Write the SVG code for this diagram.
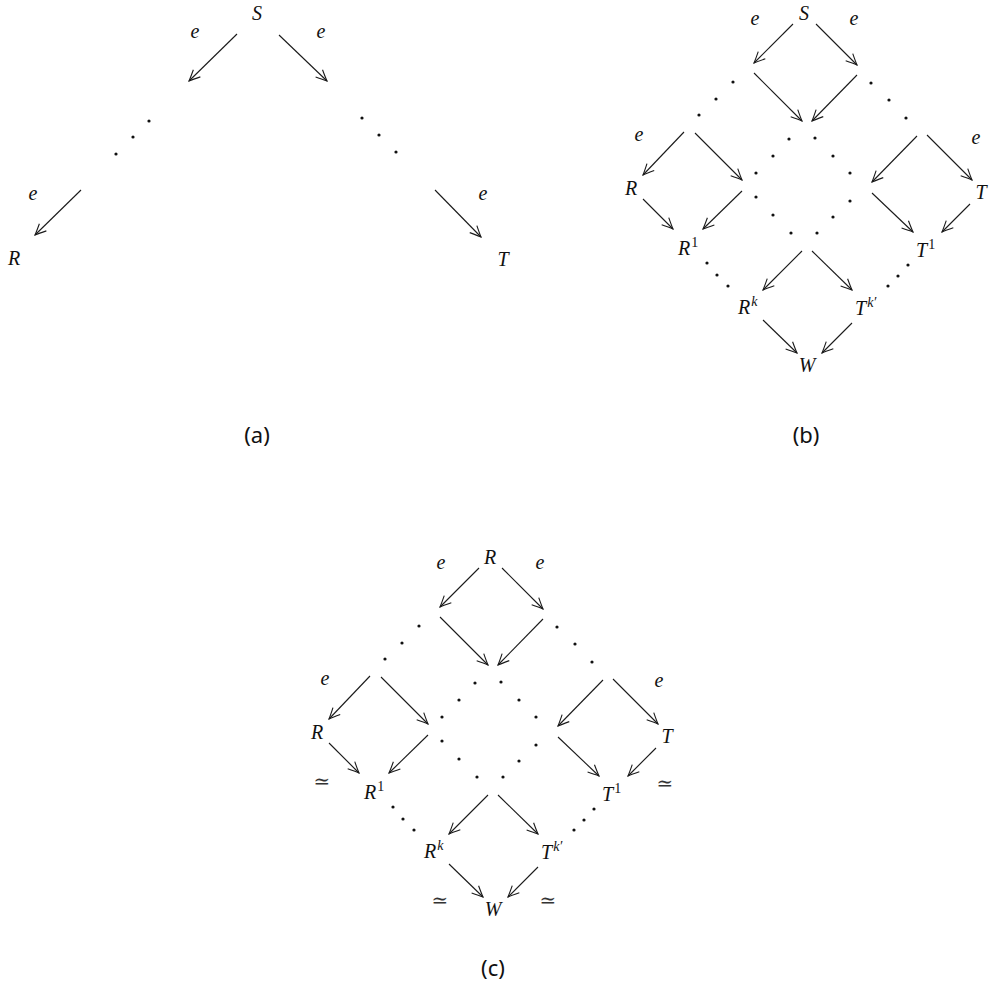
<svg xmlns="http://www.w3.org/2000/svg" width="994" height="984" viewBox="0 0 994 984">
<defs>
<marker id="ah" markerUnits="userSpaceOnUse" markerWidth="16" markerHeight="14" viewBox="-13 -7 15 14" refX="0" refY="0" orient="auto">
<path d="M-11,-5 Q-4,-1.6 0,0 Q-4,1.6 -11,5" fill="none" stroke="#1a1a1a" stroke-width="1.1"/>
</marker>
</defs>
<style>
.m{font-family:"Liberation Serif","DejaVu Serif",serif;font-style:italic;font-size:20px;fill:#111;text-anchor:middle}
.ms{font-family:"Liberation Serif","DejaVu Serif",serif;font-style:italic;font-size:20px;fill:#111}
.sup{font-size:14px}
.up{font-style:normal}
.eq{font-family:"DejaVu Serif",serif;font-size:20px;fill:#333;text-anchor:middle}
.cap{font-family:"Noto Sans","Open Sans",sans-serif;font-size:22px;fill:#111;text-anchor:middle}
.a{stroke:#1a1a1a;stroke-width:1.1;fill:none;marker-end:url(#ah)}
.d{fill:#111}
</style>
<rect width="994" height="984" fill="#fff"/>

<!-- (a) -->
<g id="diagram-a">
<g id="a-S"><text class="m" x="257" y="20">S</text></g>
<g id="a-R"><text class="m" x="14" y="265">R</text></g>
<g id="a-T"><text class="m" x="503" y="266">T</text></g>
<g id="a-labels">
<text class="m" x="195" y="38">e</text>
<text class="m" x="321" y="38">e</text>
<text class="m" x="33" y="200">e</text>
<text class="m" x="483" y="200">e</text>
</g>
<g id="a-dots" class="d">
<circle cx="149" cy="121" r="1.6"/><circle cx="133" cy="137" r="1.6"/><circle cx="116" cy="154" r="1.6"/>
<circle cx="362" cy="118" r="1.6"/><circle cx="379" cy="135" r="1.6"/><circle cx="396" cy="152" r="1.6"/>
</g>
<g id="a-connectors">
<line class="a" x1="237" y1="34" x2="189" y2="81"/>
<line class="a" x1="279" y1="35" x2="327" y2="81"/>
<line class="a" x1="81" y1="190" x2="35" y2="235"/>
<line class="a" x1="435" y1="190" x2="481" y2="237"/>
</g>
<text id="cap-a" class="cap" x="257" y="443">(a)</text>
</g>

<!-- (b) -->
<g id="diagram-b">
<g id="b-S"><text class="m" x="804" y="20">S</text></g>
<g id="b-R"><text class="m" x="631" y="195">R</text></g>
<g id="b-T"><text class="m" x="981" y="199">T</text></g>
<g id="b-R1"><text class="ms" x="678" y="255">R<tspan class="sup up" dx="1" dy="-8">1</tspan></text></g>
<g id="b-T1"><text class="ms" x="916" y="257">T<tspan class="sup up" dx="1" dy="-8">1</tspan></text></g>
<g id="b-Rk"><text class="ms" x="738" y="314">R<tspan class="sup" dx="1" dy="-8">k</tspan></text></g>
<g id="b-Tk"><text class="ms" x="855" y="315">T<tspan class="sup" dx="1" dy="-8">k′</tspan></text></g>
<g id="b-W"><text class="m" x="807" y="372">W</text></g>
<g id="b-labels">
<text class="m" x="755" y="25">e</text>
<text class="m" x="854" y="25">e</text>
<text class="m" x="639" y="141">e</text>
<text class="m" x="976" y="144">e</text>
</g>
<g id="b-dots" class="d">
<circle cx="733" cy="82" r="1.6"/><circle cx="716" cy="99" r="1.6"/><circle cx="699" cy="115" r="1.6"/>
<circle cx="871" cy="83" r="1.6"/><circle cx="889" cy="100" r="1.6"/><circle cx="906" cy="118" r="1.6"/>
<circle cx="789" cy="139" r="1.6"/><circle cx="815" cy="138" r="1.6"/>
<circle cx="773" cy="156" r="1.6"/><circle cx="833" cy="156" r="1.6"/>
<circle cx="756" cy="173" r="1.6"/><circle cx="850" cy="173" r="1.6"/>
<circle cx="756" cy="197" r="1.6"/><circle cx="850" cy="201" r="1.6"/>
<circle cx="773" cy="215" r="1.6"/><circle cx="833" cy="217" r="1.6"/>
<circle cx="791" cy="233" r="1.6"/><circle cx="817" cy="233" r="1.6"/>
<circle cx="707" cy="263" r="1.6"/><circle cx="717" cy="275" r="1.6"/><circle cx="728" cy="286" r="1.6"/>
<circle cx="908" cy="265" r="1.6"/><circle cx="898" cy="276" r="1.6"/><circle cx="888" cy="286" r="1.6"/>
</g>
<g id="b-connectors">
<line class="a" x1="793" y1="24" x2="754" y2="63"/>
<line class="a" x1="816" y1="24" x2="857" y2="65"/>
<line class="a" x1="754" y1="73" x2="802" y2="121"/>
<line class="a" x1="857" y1="75" x2="812" y2="121"/>
<line class="a" x1="684" y1="132" x2="643" y2="175"/>
<line class="a" x1="695" y1="133" x2="742" y2="180"/>
<line class="a" x1="917" y1="136" x2="872" y2="182"/>
<line class="a" x1="927" y1="135" x2="972" y2="180"/>
<line class="a" x1="643" y1="199" x2="673" y2="229"/>
<line class="a" x1="742" y1="191" x2="703" y2="229"/>
<line class="a" x1="872" y1="193" x2="913" y2="232"/>
<line class="a" x1="970" y1="204" x2="942" y2="232"/>
<line class="a" x1="802" y1="251" x2="763" y2="290"/>
<line class="a" x1="812" y1="251" x2="852" y2="290"/>
<line class="a" x1="763" y1="320" x2="797" y2="353"/>
<line class="a" x1="852" y1="323" x2="822" y2="353"/>
</g>
<text id="cap-b" class="cap" x="806" y="443">(b)</text>
</g>

<!-- (c) -->
<g id="diagram-c" transform="translate(-314,544)">
<g id="c-Rtop"><text class="m" x="804" y="20">R</text></g>
<g id="c-R"><text class="m" x="631" y="195">R</text></g>
<g id="c-T"><text class="m" x="981" y="199">T</text></g>
<g id="c-R1"><text class="ms" x="678" y="255">R<tspan class="sup up" dx="1" dy="-8">1</tspan></text></g>
<g id="c-T1"><text class="ms" x="916" y="257">T<tspan class="sup up" dx="1" dy="-8">1</tspan></text></g>
<g id="c-Rk"><text class="ms" x="738" y="314">R<tspan class="sup" dx="1" dy="-8">k</tspan></text></g>
<g id="c-Tk"><text class="ms" x="855" y="315">T<tspan class="sup" dx="1" dy="-8">k′</tspan></text></g>
<g id="c-W"><text class="m" x="807" y="372">W</text></g>
<g id="c-labels">
<text class="m" x="755" y="25">e</text>
<text class="m" x="854" y="25">e</text>
<text class="m" x="639" y="141">e</text>
<text class="m" x="973" y="143">e</text>
</g>
<g id="c-equiv">
<text class="eq" x="636" y="244">≃</text>
<text class="eq" x="979" y="246">≃</text>
<text class="eq" x="754" y="363">≃</text>
<text class="eq" x="862" y="363">≃</text>
</g>
<g id="c-dots" class="d">
<circle cx="733" cy="82" r="1.6"/><circle cx="716" cy="99" r="1.6"/><circle cx="699" cy="115" r="1.6"/>
<circle cx="871" cy="83" r="1.6"/><circle cx="889" cy="100" r="1.6"/><circle cx="906" cy="118" r="1.6"/>
<circle cx="789" cy="139" r="1.6"/><circle cx="815" cy="138" r="1.6"/>
<circle cx="773" cy="156" r="1.6"/><circle cx="833" cy="156" r="1.6"/>
<circle cx="756" cy="173" r="1.6"/><circle cx="850" cy="173" r="1.6"/>
<circle cx="756" cy="197" r="1.6"/><circle cx="850" cy="201" r="1.6"/>
<circle cx="773" cy="215" r="1.6"/><circle cx="833" cy="217" r="1.6"/>
<circle cx="791" cy="233" r="1.6"/><circle cx="817" cy="233" r="1.6"/>
<circle cx="707" cy="263" r="1.6"/><circle cx="717" cy="275" r="1.6"/><circle cx="728" cy="286" r="1.6"/>
<circle cx="908" cy="265" r="1.6"/><circle cx="898" cy="276" r="1.6"/><circle cx="888" cy="286" r="1.6"/>
</g>
<g id="c-connectors">
<line class="a" x1="793" y1="24" x2="754" y2="63"/>
<line class="a" x1="816" y1="24" x2="857" y2="65"/>
<line class="a" x1="754" y1="73" x2="802" y2="121"/>
<line class="a" x1="857" y1="75" x2="812" y2="121"/>
<line class="a" x1="684" y1="132" x2="643" y2="175"/>
<line class="a" x1="695" y1="133" x2="742" y2="180"/>
<line class="a" x1="917" y1="136" x2="872" y2="182"/>
<line class="a" x1="927" y1="135" x2="972" y2="180"/>
<line class="a" x1="643" y1="199" x2="673" y2="229"/>
<line class="a" x1="742" y1="191" x2="703" y2="229"/>
<line class="a" x1="872" y1="193" x2="913" y2="232"/>
<line class="a" x1="970" y1="204" x2="942" y2="232"/>
<line class="a" x1="802" y1="251" x2="763" y2="290"/>
<line class="a" x1="812" y1="251" x2="852" y2="290"/>
<line class="a" x1="763" y1="320" x2="797" y2="353"/>
<line class="a" x1="852" y1="323" x2="822" y2="353"/>
</g>
</g>
<text id="cap-c" class="cap" x="493" y="976">(c)</text>
</svg>
